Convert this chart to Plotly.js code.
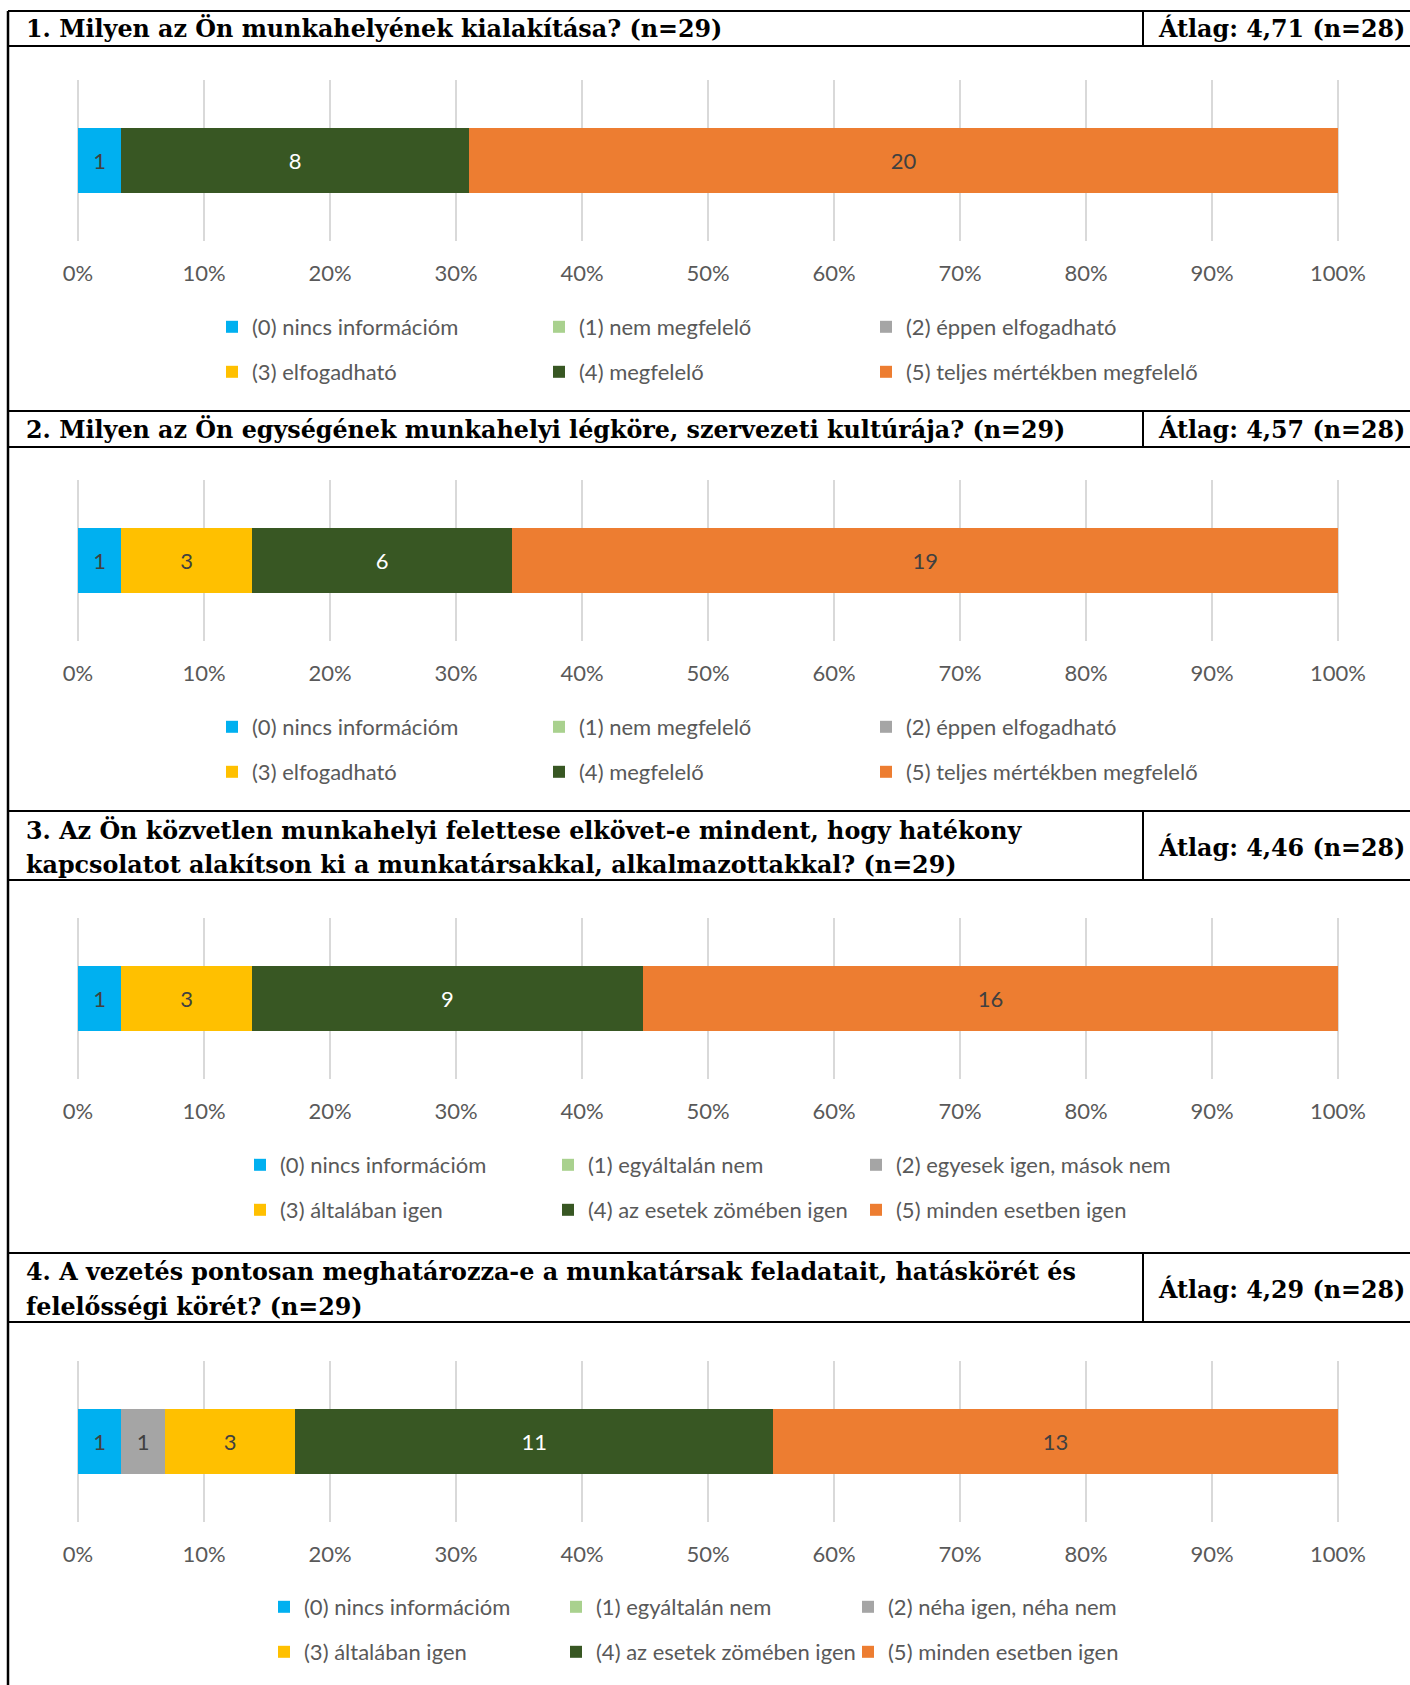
<!DOCTYPE html>
<html><head><meta charset="utf-8">
<script src="https://cdn.plot.ly/plotly-3.0.1.min.js"></script>
<style>html,body{margin:0;padding:0;background:#fff}#chart{width:1410px;height:1685px}</style>
</head><body><div id="chart"></div>
<script>
// ---- data ----
const questionTitles = [
  '1. Milyen az Ön munkahelyének kialakítása? (n=29)',
  '2. Milyen az Ön egységének munkahelyi légköre, szervezeti kultúrája? (n=29)',
  '3. Az Ön közvetlen munkahelyi felettese elkövet-e mindent, hogy hatékony<br>kapcsolatot alakítson ki a munkatársakkal, alkalmazottakkal? (n=29)',
  '4. A vezetés pontosan meghatározza-e a munkatársak feladatait, hatáskörét és<br>felelősségi körét? (n=29)'
];
const averageTexts = ['Átlag: 4,71 (n=28)', 'Átlag: 4,57 (n=28)', 'Átlag: 4,46 (n=28)', 'Átlag: 4,29 (n=28)'];
const answersQ1 = ['(0) nincs információm', '(1) nem megfelelő', '(2) éppen elfogadható', '(3) elfogadható', '(4) megfelelő', '(5) teljes mértékben megfelelő'];
const answersQ2 = ['(0) nincs információm', '(1) nem megfelelő', '(2) éppen elfogadható', '(3) elfogadható', '(4) megfelelő', '(5) teljes mértékben megfelelő'];
const answersQ3 = ['(0) nincs információm', '(1) egyáltalán nem', '(2) egyesek igen, mások nem', '(3) általában igen', '(4) az esetek zömében igen', '(5) minden esetben igen'];
const answersQ4 = ['(0) nincs információm', '(1) egyáltalán nem', '(2) néha igen, néha nem', '(3) általában igen', '(4) az esetek zömében igen', '(5) minden esetben igen'];
const countsQ1 = [1, 0, 0, 0, 8, 20];
const countsQ2 = [1, 0, 0, 3, 6, 19];
const countsQ3 = [1, 0, 0, 3, 9, 16];
const countsQ4 = [1, 0, 1, 3, 11, 13];
const tickValues = [0, 10, 20, 30, 40, 50, 60, 70, 80, 90, 100];
const tickLabels = ['0%', '10%', '20%', '30%', '40%', '50%', '60%', '70%', '80%', '90%', '100%'];

// ---- styles / layout geometry (pixels) ----
const W = 1410, H = 1685;
const barColors = ['#00B0F0', '#A9D18E', '#A5A5A5', '#FFC000', '#385723', '#ED7D31'];
const labelColors = ['#404040', '#404040', '#404040', '#404040', '#FFFFFF', '#404040'];
const geo = [
  {top: 11,   hb: 46,   pt: 80,   pb: 241,  leg: [327, 372],   textX: 252, col: 327},
  {top: 411,  hb: 447,  pt: 480,  pb: 641,  leg: [727, 772],   textX: 252, col: 327},
  {top: 811,  hb: 880,  pt: 918,  pb: 1079, leg: [1165, 1210], textX: 280, col: 308},
  {top: 1253, hb: 1322, pt: 1361, pb: 1522, leg: [1607, 1652], textX: 304, col: 292}
];
const X0 = 78, X1 = 1338, DIV = 1143, LEFT = 8;
const PAD = 0.2; // small range padding so the 0% and 100% gridlines are drawn
const pxPerUnit = (X1 - X0) / 100;
const px = v => v / W;
const py = v => 1 - v / H;
const sansFont = 'Lato, "Open Sans", sans-serif';
const serifFont = '"DejaVu Serif", "Liberation Serif", serif';
const SANS = 22, SERIF = 23.8;
const LINE_OFFSETS = [-15.5, 19.5];

const answers = [answersQ1, answersQ2, answersQ3, answersQ4];
const counts = [countsQ1, countsQ2, countsQ3, countsQ4];

const traces = [];
const layout = {
  width: W, height: H,
  margin: {l: 0, r: 0, t: 0, b: 0},
  paper_bgcolor: '#ffffff', plot_bgcolor: 'rgba(0,0,0,0)',
  barmode: 'stack', barnorm: 'percent', bargap: 0.6,
  font: {family: sansFont, size: SANS, color: '#595959'},
  showlegend: true,
  shapes: [], annotations: []
};

const lineStyle = {color: '#000000', width: 2};
const titleFont = {family: serifFont, size: SERIF, color: '#000000', weight: 'bold'};

for (let q = 0; q < 4; q++) {
  const g = geo[q];
  const sfx = q === 0 ? '' : String(q + 1);
  const legA = q === 0 ? 'legend' : 'legend' + (2 * q + 1);
  const legB = 'legend' + (2 * q + 2);
  for (let k = 0; k < 6; k++) {
    const v = counts[q][k];
    const tr = {
      type: 'bar', orientation: 'h',
      name: answers[q][k],
      x: [v], y: ['Q' + (q + 1)],
      xaxis: 'x' + sfx, yaxis: 'y' + sfx,
      marker: {color: barColors[k], line: {width: 0}},
      text: [v === 0 ? '' : String(v)],
      texttemplate: '%{text}',
      textposition: 'inside', insidetextanchor: 'middle', textangle: 0,
      constraintext: 'none',
      textfont: {family: sansFont, size: SANS, color: labelColors[k]},
      hoverinfo: 'name+text',
      legend: k < 3 ? legA : legB
    };
    if (k % 3 === 2) tr.legendwidth = 420;
    traces.push(tr);
  }
  layout['xaxis' + sfx] = {
    domain: [px(X0 - PAD * pxPerUnit), px(X1 + PAD * pxPerUnit)], anchor: 'y' + sfx,
    range: [-PAD, 100 + PAD], tickvals: tickValues, ticktext: tickLabels,
    showgrid: true, gridcolor: '#D9D9D9', gridwidth: 1.5,
    zeroline: false, showline: false, ticks: '',
    ticklabelstandoff: 17,
    tickfont: {family: sansFont, size: SANS, color: '#595959'},
    fixedrange: true
  };
  layout['yaxis' + sfx] = {
    domain: [py(g.pb), py(g.pt)], anchor: 'x' + sfx,
    visible: false, fixedrange: true
  };
  [legA, legB].forEach((lid, r) => {
    layout[lid] = {
      orientation: 'h', x: px(g.textX - 40), xanchor: 'left',
      y: py(g.leg[r]), yanchor: 'middle',
      bgcolor: 'rgba(0,0,0,0)', borderwidth: 0,
      entrywidth: g.col - 45, entrywidthmode: 'pixels',
      traceorder: 'normal',
      font: {family: sansFont, size: SANS, color: '#595959'}
    };
  });
  // header lines
  [g.top, g.hb].forEach(yy => layout.shapes.push({
    type: 'line', xref: 'paper', yref: 'paper',
    x0: px(LEFT), x1: 1, y0: py(yy), y1: py(yy), line: lineStyle
  }));
  layout.shapes.push({
    type: 'line', xref: 'paper', yref: 'paper',
    x0: px(DIV), x1: px(DIV), y0: py(g.top), y1: py(g.hb), line: lineStyle
  });
  const mid = (g.top + g.hb) / 2;
  const lines = questionTitles[q].split('<br>');
  lines.forEach((ln, i) => {
    const yy = lines.length === 1 ? mid : mid + LINE_OFFSETS[i];
    layout.annotations.push({
      xref: 'paper', yref: 'paper', x: px(24), y: py(yy), xanchor: 'left', yanchor: 'middle',
      align: 'left', showarrow: false, text: ln, font: titleFont
    });
  });
  layout.annotations.push({
    xref: 'paper', yref: 'paper', x: px(1156), y: py(mid + (lines.length > 1 ? 2 : 0)), xanchor: 'left', yanchor: 'middle',
    align: 'left', showarrow: false, text: averageTexts[q], font: titleFont
  });
}
// outer left border
layout.shapes.push({
  type: 'line', xref: 'paper', yref: 'paper',
  x0: px(LEFT), x1: px(LEFT), y0: py(geo[0].top), y1: 0, line: {color: '#000000', width: 2.5}
});

Plotly.newPlot('chart', traces, layout, {staticPlot: true, displayModeBar: false});
</script>
</body></html>
